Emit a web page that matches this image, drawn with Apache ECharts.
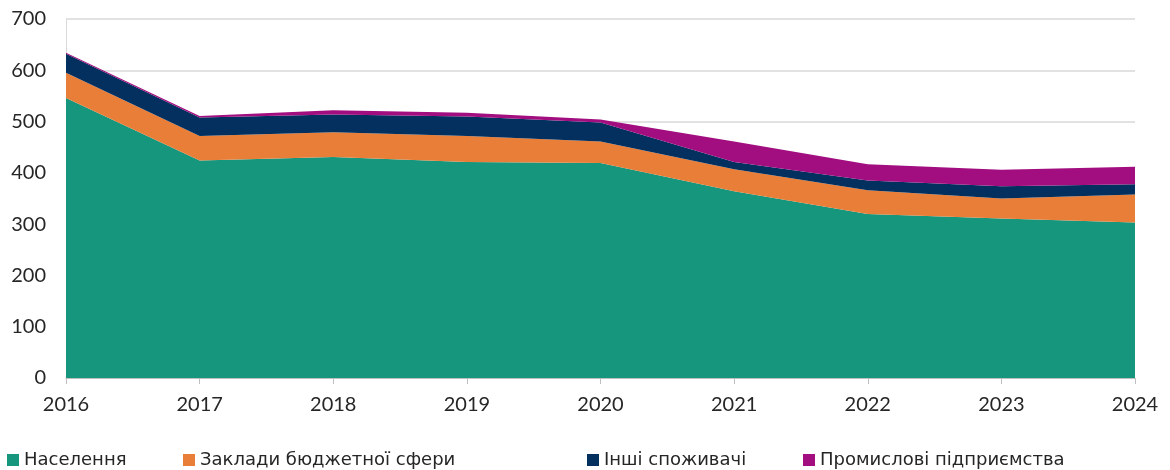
<!DOCTYPE html>
<html>
<head>
<meta charset="utf-8">
<script src="https://cdn.jsdelivr.net/npm/echarts@6/dist/echarts.min.js"></script>
<style>
html,body{margin:0;padding:0;background:#fff;}
#chart{width:1170px;height:470px;}
</style>
</head>
<body>
<div id="chart"></div>
<script>
const years = ['2016','2017','2018','2019','2020','2021','2022','2023','2024'];
const seriesNames = ['Населення','Заклади бюджетної сфери','Інші споживачі','Промислові підприємства'];
const population = [546, 424, 431, 421, 419, 364, 320, 311, 303];
const budget     = [49, 48, 48, 51, 42, 43, 46, 39, 55];
const others     = [37, 36, 35, 38, 37, 14, 19, 24, 20];
const industry   = [2, 3, 8, 7, 6, 40, 32, 32, 34];
const yTicks = [0, 100, 200, 300, 400, 500, 600, 700];

const colors = ['#16967C', '#E97E38', '#03305F', '#A20D7F'];
const values = [population, budget, others, industry];
const font = 'Lato, "Open Sans", sans-serif';
const legendFont = '"DejaVu Sans", sans-serif';
const textColor = '#262626';

const chart = echarts.init(document.getElementById('chart'));
const legendLefts = [7, 183, 587, 803];
chart.setOption({
  animation: false,
  color: colors,
  grid: {left: 66, right: 35, top: 19, bottom: 92, containLabel: false},
  legend: seriesNames.map((n, i) => ({
    data: [n], left: legendLefts[i], top: 451, icon: 'rect', padding: 0,
    itemWidth: 12, itemHeight: 12, itemGap: 5,
    textStyle: {fontFamily: legendFont, fontSize: 18, color: textColor}
  })),
  xAxis: {
    type: 'category', data: years, boundaryGap: false,
    axisLine: {lineStyle: {color: '#BFBFBF', width: 1}},
    axisTick: {show: true, length: 6, lineStyle: {color: '#BFBFBF'}},
    axisLabel: {fontFamily: font, fontSize: 20, color: textColor, margin: 17}
  },
  yAxis: {
    type: 'value', min: yTicks[0], max: yTicks[yTicks.length-1], interval: yTicks[1]-yTicks[0],
    axisLine: {show: true, lineStyle: {color: '#D9D9D9'}},
    axisTick: {show: false},
    splitLine: {lineStyle: {color: '#D9D9D9', width: 1.5}},
    axisLabel: {fontFamily: font, fontSize: 20, color: textColor, margin: 20}
  },
  series: seriesNames.map((n, i) => ({
    name: n, type: 'line', stack: 'total', data: values[i],
    showSymbol: false, symbol: 'none',
    lineStyle: {width: 0},
    areaStyle: {color: colors[i], opacity: 1},
    itemStyle: {color: colors[i]}
  }))
});
</script>
</body>
</html>
